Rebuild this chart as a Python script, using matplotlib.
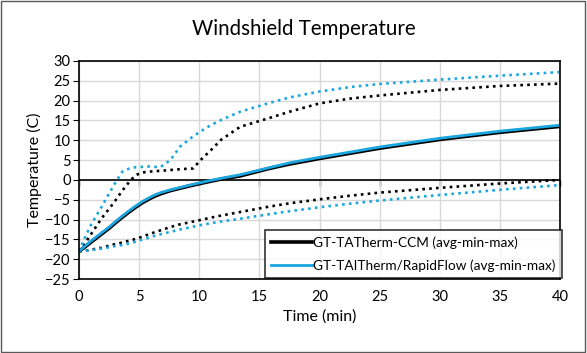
import matplotlib.pyplot as plt
import numpy as np

plt.rcParams['font.family'] = ['Lato', 'DejaVu Sans']

# tiempos (min)
t = [0, 0.5, 1, 1.9, 2.5, 3, 3.6, 4.2, 4.7, 5.3, 5.9, 6.3, 6.8, 7.6, 8.4, 9.5, 10.1, 11, 11.8, 13.4, 15.7, 17.5, 20, 22.5, 25, 30, 35, 40]

# GT-TATherm-CCM
ccm_avg = [-18, -16.9, -15.7, -13.6, -12.2, -10.9, -9.4, -8.0, -6.9, -5.7, -4.7, -4.1, -3.5, -2.7, -2.1, -1.3, -0.9, -0.3, 0.2, 1.0, 2.8, 4.0, 5.4, 6.7, 8.0, 10.2, 12.0, 13.5]
ccm_min = [-18, -17.9, -17.6, -17.1, -16.6, -16.2, -15.8, -15.3, -14.9, -14.3, -13.6, -13.2, -12.7, -11.9, -11.2, -10.5, -10.1, -9.5, -9.0, -8.1, -6.8, -5.9, -4.9, -4.0, -3.2, -2.0, -0.9, 0.0]
ccm_max = [-18, -16.0, -13.7, -9.6, -7.3, -5.3, -2.7, -0.4, 1.2, 1.9, 2.1, 2.2, 2.3, 2.5, 2.7, 2.9, 5.0, 7.6, 10.1, 13.4, 15.5, 17.2, 19.3, 20.5, 21.3, 22.7, 23.7, 24.3]

# GT-TAITherm/RapidFlow
rf_avg = [-18, -16.7, -15.4, -13.3, -11.9, -10.6, -9.1, -7.7, -6.6, -5.4, -4.4, -3.8, -3.2, -2.5, -1.9, -1.1, -0.7, -0.1, 0.4, 1.3, 3.0, 4.3, 5.7, 7.0, 8.3, 10.5, 12.3, 13.8]
rf_min = [-18, -17.9, -17.7, -17.3, -17.0, -16.7, -16.4, -16.0, -15.6, -15.0, -14.5, -14.1, -13.7, -13.1, -12.5, -11.8, -11.4, -10.9, -10.5, -9.8, -8.7, -7.9, -6.9, -6.0, -5.2, -3.8, -2.5, -1.3]
rf_max = [-18, -14.5, -11.3, -6.7, -3.4, -0.8, 2.1, 2.9, 3.2, 3.3, 3.4, 3.3, 3.3, 5.0, 8.4, 11.0, 12.2, 13.9, 15.1, 17.2, 19.3, 20.8, 22.3, 23.4, 24.2, 25.3, 26.3, 27.2]

xticks = np.arange(0, 45, 5)
yticks = np.arange(-25, 35, 5)

negro = '#000000'
celeste = '#1AA7E0'
puntos = (0, (1, 1.6))

fig = plt.figure(figsize=(5.87, 3.53), dpi=100)
ax = fig.add_axes([0.1346, 0.2096, 0.8194, 0.6176])

ax.plot(t, ccm_min, color=negro, lw=1.9, ls=puntos)
ax.plot(t, ccm_max, color=negro, lw=1.9, ls=puntos)
ax.plot(t, rf_min, color=celeste, lw=1.9, ls=puntos)
ax.plot(t, rf_max, color=celeste, lw=1.9, ls=puntos)
ax.plot(t, ccm_avg, color=negro, lw=2.6, label='GT-TATherm-CCM (avg-min-max)')
ax.plot(t, rf_avg, color=celeste, lw=2.0, label='GT-TAITherm/RapidFlow (avg-min-max)')

ax.axhline(0, color=negro, lw=1.2, zorder=1.5)
sec = ax.secondary_xaxis(25 / 55)
sec.set_xticks(xticks)
sec.set_xticklabels([])
sec.tick_params(direction='out', length=4, width=1, color=negro)
sec.spines['bottom'].set_visible(False)

ax.set_xlim(0, 40)
ax.set_ylim(-25, 30)
ax.set_xticks(xticks)
ax.set_yticks(yticks)
ax.tick_params(axis='x', length=0, labelsize=10.5, pad=8)
ax.tick_params(axis='y', direction='out', length=4, labelsize=10.5, pad=2)
ax.grid(True, color='#D9D9D9', lw=1)
ax.set_axisbelow(True)
for s in ax.spines.values():
    s.set_color(negro)
    s.set_linewidth(1.2)

ax.set_xlabel('Time (min)', fontsize=11.5, labelpad=4)
ax.set_ylabel('Temperature (C)', fontsize=11.5, labelpad=2)
fig.suptitle('Windshield Temperature', x=0.518, y=0.945, fontsize=14.8)

leg = ax.legend(loc='lower right', bbox_to_anchor=(1.006, 0.0), fontsize=9.8, frameon=True,
                fancybox=False, edgecolor=negro, handlelength=3.0, handletextpad=0.1,
                borderpad=0.45, labelspacing=0.75, borderaxespad=0.1)
leg.get_frame().set_linewidth(1.2)

fig.patches.append(plt.Rectangle((0.002, 0.003), 0.995, 0.994, transform=fig.transFigure,
                                 fill=False, edgecolor='#595959', lw=1))

fig.savefig('out.png', dpi=100)
